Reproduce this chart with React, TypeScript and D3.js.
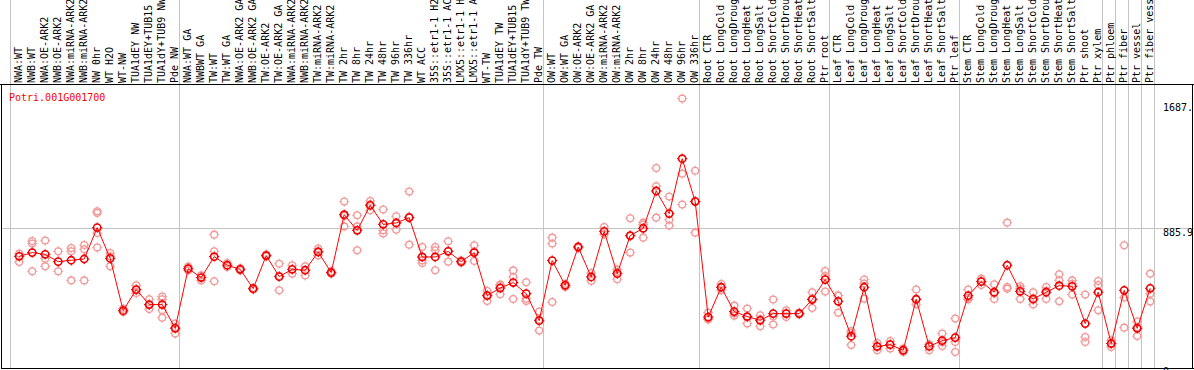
import React from "react";
import * as d3 from "d3";

const geneId = "Potri.001G001700";

const groupNW = ["NWA:WT", "NWB:WT", "NWA:OE-ARK2", "NWB:OE-ARK2", "NWA:miRNA-ARK2", "NWB:miRNA-ARK2", "NW 0hr", "WT H2O", "WT-NW", "TUA1dEY NW", "TUA1dEY+TUB15 NW", "TUA1dY+TUB9 NW", "Pde NW"];
const groupTW = ["NWA:WT GA", "NWBWT GA", "TW:WT", "TW:WT GA", "NWA:OE-ARK2 GA", "NWB:OE-ARK2 GA", "TW:OE-ARK2", "TW:OE-ARK2 GA", "NWA:miRNA-ARK2 GA", "NWB:miRNA-ARK2 GA", "TW:miRNA-ARK2", "TW:miRNA-ARK2 GA", "TW 2hr", "TW 8hr", "TW 24hr", "TW 48hr", "TW 96hr", "TW 336hr", "WT ACC", "35S::etr1-1 H2O", "35S::etr1-1 ACC", "LMX5::etr1-1 H2O", "LMX5::etr1-1 ACC", "WT-TW", "TUA1dEY TW", "TUA1dEY+TUB15 TW", "TUA1dY+TUB9 TW", "Pde TW"];
const groupOW = ["OW:WT", "OW:WT GA", "OW:OE-ARK2", "OW:OE-ARK2 GA", "OW:miRNA-ARK2", "OW:miRNA-ARK2 GA", "OW 2hr", "OW 8hr", "OW 24hr", "OW 48hr", "OW 96hr", "OW 336hr"];
const groupRoot = ["Root CTR", "Root LongCold", "Root LongDrought", "Root LongHeat", "Root LongSalt", "Root ShortCold", "Root ShortDrought", "Root ShortHeat", "Root ShortSalt", "Ptr root"];
const groupLeaf = ["Leaf CTR", "Leaf LongCold", "Leaf LongDrought", "Leaf LongHeat", "Leaf LongSalt", "Leaf ShortCold", "Leaf ShortDrought", "Leaf ShortHeat", "Leaf ShortSalt", "Ptr leaf"];
const groupStem = ["Stem CTR", "Stem LongCold", "Stem LongDrought", "Stem LongHeat", "Stem LongSalt", "Stem ShortCold", "Stem ShortDrought", "Stem ShortHeat", "Stem ShortSalt", "Ptr shoot", "Ptr xylem"];
const groupPhloem = ["Ptr phloem"];
const groupFiber = ["Ptr fiber"];
const groupVessel = ["Ptr vessel"];
const groupFiberVessel = ["Ptr fiber vessel"];

const groups = [groupNW, groupTW, groupOW, groupRoot, groupLeaf, groupStem, groupPhloem, groupFiber, groupVessel, groupFiberVessel];
const categories = groups.flat();

const meanValues = [
  706, 730, 719, 672, 681, 689, 890, 693, 358, 493, 397, 397, 245,
  627, 570, 704, 649, 623, 499, 711, 576, 623, 617, 734, 602, 973, 873, 1033, 911, 920, 954, 702, 702, 738, 672, 730, 454, 503, 538, 467, 294,
  679, 520, 766, 574, 866, 595, 839, 886, 1125, 980, 1332, 1057,
  317, 508, 352, 320, 296, 339, 339, 339, 429, 557,
  418, 194, 508, 128, 140, 104, 431, 129, 166, 185,
  454, 544, 476, 649, 482, 433, 476, 518, 514, 275, 476,
  147, 488, 245, 501,
];

const replicateValues = [
  [724, 670], [804, 788, 610], [807, 691, 642], [738, 610], [759, 738, 552], [779, 751, 552], [995, 984, 856, 762], [727, 706, 642], [370, 350], [520, 471, 490], [431, 368, 392], [448, 431, 360, 313], [275, 211, 250],
  [640, 615], [584, 552], [845, 738, 546], [663, 638], [630, 615], [505, 493], [718, 705], [659, 488, 580], [649, 595], [642, 583], [756, 738, 712], [610, 595], [1057, 898, 965], [969, 898, 745], [1061, 1001, 1040], [1006, 873, 852], [963, 877, 920], [1121, 781, 960], [766, 663, 680], [766, 745, 617], [802, 672, 740], [680, 665], [777, 676, 737], [484, 420, 458], [525, 463, 520], [616, 574, 433], [540, 435, 420], [352, 230, 300],
  [826, 788, 413], [530, 510], [770, 760], [599, 548], [894, 847], [621, 559, 605], [950, 730, 837], [922, 826, 910], [1272, 1155, 954], [1089, 941, 903], [1717, 1236, 1038], [1255, 858, 1060],
  [345, 301, 305], [529, 488, 507], [390, 326, 340], [371, 275, 315], [328, 258, 302], [429, 269, 320], [360, 317, 340], [345, 335], [476, 375, 436], [612, 480, 580],
  [454, 345, 455], [228, 138, 215], [557, 435, 532], [151, 104, 130], [163, 115, 142], [115, 93, 104], [493, 399, 430], [142, 104, 141], [211, 131, 156], [307, 157, 93],
  [493, 429, 440], [563, 522, 547], [527, 433, 468], [922, 509, 499], [514, 433, 499], [476, 397, 426], [509, 433, 486], [591, 552, 418], [552, 461, 530], [461, 189, 157], [548, 522, 360],
  [168, 125, 148], [777, 442, 249], [288, 195, 252], [595, 467, 416],
];

const tickValues = [0, 885.9, 1687];
const tickLabels = ["0", "885.9", "1687."];

const W = 1194;
const H = 370;
const FONT = "'DejaVu Sans Mono', 'Liberation Mono', monospace";

function Marker({ cx, cy, r, color, sw }: { cx: number; cy: number; r: number; color: string; sw: number }) {
  const t = r + 1.6;
  return (
    <g>
      <circle cx={cx} cy={cy} r={r} fill="none" stroke={color} strokeWidth={sw} />
      <line x1={cx} x2={cx} y1={cy - t} y2={cy - r + 0.5} stroke={color} strokeWidth={1} />
      <line x1={cx} x2={cx} y1={cy + r - 0.5} y2={cy + t} stroke={color} strokeWidth={1} />
      <line x1={cx - t} x2={cx - r + 0.5} y1={cy} y2={cy} stroke={color} strokeWidth={1} />
      <line x1={cx + r - 0.5} x2={cx + t} y1={cy} y2={cy} stroke={color} strokeWidth={1} />
    </g>
  );
}

export default function App() {
  const x = d3.scaleBand<number>().domain(d3.range(categories.length)).range([10.5, 10.5 + 13 * categories.length]);
  const px = (i: number) => (x(i) as number) + 8.7;
  const y = d3.scaleLinear().domain([0, 1687]).range([366.5, 103.3]);

  const boundaries: number[] = [0];
  let acc = 0;
  groups.forEach((g) => {
    acc += g.length;
    boundaries.push(acc);
  });

  const line = d3
    .line<number>()
    .x((_, i) => px(i))
    .y((d) => y(d));

  const gridY = Math.round(y(885.9)) + 0.5;

  return (
    <svg width={W} height={H} style={{ position: "absolute", left: 0, top: 0, background: "#fff" }} fontFamily={FONT}>
      <rect x={0} y={0} width={W} height={H} fill="#fff" />
      {boundaries.map((b) => {
        const bx = b < categories.length ? (x(b) as number) : 10.5 + 13 * categories.length;
        return <line key={"v" + b} x1={bx} x2={bx} y1={0} y2={368} stroke="#c4c4c4" strokeWidth={1} />;
      })}
      <line x1={1.5} x2={W} y1={gridY} y2={gridY} stroke="#c4c4c4" strokeWidth={1} />

      {categories.map((c, i) => (
        <text
          key={"l" + i}
          transform={`translate(${px(i) + 2.6},83) rotate(-90)`}
          fontSize={10}
          fill="#000"
        >
          {c}
        </text>
      ))}

      <line x1={0} x2={W} y1={84.5} y2={84.5} stroke="#000" strokeWidth={1} />
      <line x1={1.5} x2={1.5} y1={84.5} y2={368.5} stroke="#000" strokeWidth={1} />
      <line x1={1192.5} x2={1192.5} y1={84.5} y2={368.5} stroke="#000" strokeWidth={1} />
      <line x1={1} x2={W} y1={368.5} y2={368.5} stroke="#000" strokeWidth={1} />

      <text x={9} y={101} fontSize={10} fill="#ff0000">
        {geneId}
      </text>

      {tickValues.map((v, k) => (
        <text key={"t" + k} x={1163} y={y(v) + 8} fontSize={10} fill="#000">
          {tickLabels[k]}
        </text>
      ))}

      {replicateValues.map((reps, i) =>
        reps.map((v, j) => <Marker key={`r${i}-${j}`} cx={px(i)} cy={y(v)} r={3.4} color="#f29a9a" sw={1.3} />)
      )}

      <path d={line(meanValues) || ""} fill="none" stroke="#ff0000" strokeWidth={1} />

      {meanValues.map((v, i) => (
        <Marker key={"m" + i} cx={px(i)} cy={y(v)} r={3.6} color="#ee0000" sw={1.6} />
      ))}
    </svg>
  );
}
